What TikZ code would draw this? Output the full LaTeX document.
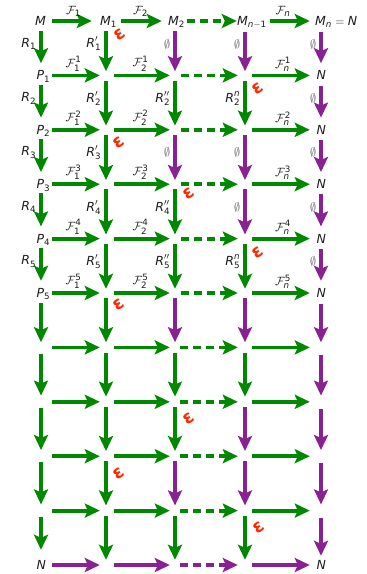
\documentclass[tikz,border=0pt]{standalone}
\usepackage{fontspec}
\setmainfont{DejaVu Sans}
\usepackage{amsmath}
\usetikzlibrary{arrows.meta}
\definecolor{gr}{RGB}{0,136,0}
\definecolor{pu}{RGB}{136,34,146}
\definecolor{ep}{RGB}{255,40,0}
\definecolor{lb}{RGB}{30,30,30}
\definecolor{es}{RGB}{90,90,90}
\newcommand\vv[1]{\textit{#1}}
\newcommand\tx[1]{\text{#1}}
\newcommand\Emp{{\color{es}$\emptyset$}}
\begin{document}
\begin{tikzpicture}[x=1pt,y=-1pt,
 lblfont/.style={font=\fontsize{12.5}{15}\selectfont, text=lb},
 gp/.style={inner sep=0pt, minimum size=0pt},
 tn/.style={lblfont, anchor=west, inner sep=0pt, text height=10.5pt, text depth=1.5pt},
 arr/.style={line width=3.8pt, -{Stealth[length=15pt,width=14pt,inset=3pt]}},
 sl/.style={shorten <=#1pt}, el/.style={shorten >=#1pt},
 dsh/.style={dash pattern=on 8pt off 5pt},
 hl/.style={lblfont, midway, anchor=south, yshift=2.5pt, inner sep=0pt},
 vl/.style={lblfont, pos=0.42, anchor=east, xshift=-3pt, inner sep=0pt},
 eps/.style={text=ep, font=\fontsize{18}{18}\selectfont\bfseries, rotate=35, inner sep=0pt}
]
\useasboundingbox (0,0) rectangle (367,574);
% grid points
\foreach \i in {0,...,10} {
  \foreach \j/\x in {0/41,1/106,2/175,3/245,4/321} {
    \node[gp] (g\i-\j) at (\x,{21+54.4*\i}) {};
  }
}
% texts
\node[tn] (tM) at (35,21) {$\vv{M}$};
\node[tn] (tM1) at (100,21) {$\vv{M}_{\tx{1}}$};
\node[tn] (tM2) at (168,21) {$\vv{M}_{\tx{2}}$};
\node[tn] (tMn1) at (237,21) {$\vv{M}_{\vv{n}-\tx{1}}$};
\node[tn] (tMn) at (315,21) {$\vv{M}_{\vv{n}}=\vv{N}$};
\foreach \i in {1,...,5} {
  \node[tn] (tP\i) at (36.5,{21+54.4*\i}) {$\vv{P}_{\tx{\i}}$};
  \node[tn] (tN\i) at (316.5,{21+54.4*\i}) {$\vv{N}$};
}
\node[tn] (tNa) at (36.5,565) {$\vv{N}$};
\node[tn] (tNb) at (316.5,565) {$\vv{N}$};
% horizontal arrows
\draw[arr,color=gr,sl=11,el=14] (g0-0) -- node[hl]{$\mathcal{F}_{\tx{1}}$} (g0-1);
\draw[arr,color=gr,sl=15,el=13] (g0-1) -- node[hl]{$\mathcal{F}_{\tx{2}}$} (g0-2);
\draw[arr,color=gr,dsh,sl=12,el=8] (g0-2) -- (g0-3);
\draw[arr,color=gr,sl=25,el=11] (g0-3) -- node[hl]{$\mathcal{F}_{\vv{n}}$} (g0-4);
\foreach \i in {1,...,5} {
  \draw[arr,color=gr,sl=11,el=6] (g\i-0) -- node[hl]{$\mathcal{F}^{\tx{\i}}_{\tx{1}}$} (g\i-1);
  \draw[arr,color=gr,sl=8,el=5] (g\i-1) -- node[hl]{$\mathcal{F}^{\tx{\i}}_{\tx{2}}$} (g\i-2);
  \draw[arr,color=gr,dsh,sl=6,el=7] (g\i-2) -- (g\i-3);
  \draw[arr,color=gr,sl=7,el=11] (g\i-3) -- node[hl]{$\mathcal{F}^{\tx{\i}}_{\vv{n}}$} (g\i-4);
}
\foreach \i/\c in {6/gr,7/gr,8/gr,9/gr,10/pu} {
  \draw[arr,color=\c,sl=11,el=6] (g\i-0) -- (g\i-1);
  \draw[arr,color=\c,sl=8,el=5] (g\i-1) -- (g\i-2);
  \draw[arr,color=\c,dsh,sl=5,el=7] (g\i-2) -- (g\i-3);
  \draw[arr,color=\c,sl=7,el=11] (g\i-3) -- (g\i-4);
}
% column 0
\draw[arr,color=gr,sl=10,el=12] (g0-0) -- node[vl]{$\vv{R}_{\tx{1}}$} (g1-0);
\foreach \i/\k in {1/2,2/3,3/4,4/5}
  \draw[arr,color=gr,sl=9,el=12] (g\i-0) -- node[vl]{$\vv{R}_{\tx{\k}}$} (g\k-0);
\draw[arr,color=gr,sl=10,el=5] (g5-0) -- (g6-0);
\foreach \i/\k in {6/7,7/8,8/9}
  \draw[arr,color=gr,sl=6,el=6] (g\i-0) -- (g\k-0);
\draw[arr,color=gr,sl=6,el=15] (g9-0) -- (g10-0);
% column 1
\draw[arr,color=gr,sl=10,el=4] (g0-1) -- node[vl]{$\vv{R}'_{\tx{1}}$} (g1-1);
\foreach \i/\k in {1/2,2/3,3/4,4/5}
  \draw[arr,color=gr,sl=5,el=4] (g\i-1) -- node[vl]{$\vv{R}'_{\tx{\k}}$} (g\k-1);
\foreach \i/\k in {5/6,6/7,7/8,8/9,9/10}
  \draw[arr,color=gr,sl=5,el=5] (g\i-1) -- (g\k-1);
% column 2
\draw[arr,color=pu,sl=10,el=4] (g0-2) -- node[vl]{\Emp} (g1-2);
\draw[arr,color=gr,sl=5,el=4] (g1-2) -- node[vl]{$\vv{R}''_{\tx{2}}$} (g2-2);
\draw[arr,color=pu,sl=5,el=4] (g2-2) -- node[vl]{\Emp} (g3-2);
\draw[arr,color=gr,sl=5,el=4] (g3-2) -- node[vl]{$\vv{R}''_{\tx{4}}$} (g4-2);
\draw[arr,color=gr,sl=5,el=4] (g4-2) -- node[vl]{$\vv{R}''_{\tx{5}}$} (g5-2);
\foreach \i/\k/\c in {5/6/pu,6/7/gr,7/8/gr,8/9/pu,9/10/gr}
  \draw[arr,color=\c,sl=5,el=5] (g\i-2) -- (g\k-2);
% column 3
\draw[arr,color=pu,sl=11,el=4] (g0-3) -- node[vl]{\Emp} (g1-3);
\draw[arr,color=gr,sl=5,el=4] (g1-3) -- node[vl]{$\vv{R}^{\vv{n}}_{\tx{2}}$} (g2-3);
\draw[arr,color=pu,sl=5,el=4] (g2-3) -- node[vl]{\Emp} (g3-3);
\draw[arr,color=pu,sl=5,el=4] (g3-3) -- node[vl]{\Emp} (g4-3);
\draw[arr,color=gr,sl=5,el=4] (g4-3) -- node[vl]{$\vv{R}^{\vv{n}}_{\tx{5}}$} (g5-3);
\foreach \i/\k/\c in {5/6/pu,6/7/gr,7/8/pu,8/9/pu,9/10/gr}
  \draw[arr,color=\c,sl=5,el=5] (g\i-3) -- (g\k-3);
% column 4
\draw[arr,color=pu,sl=11,el=12] (g0-4) -- node[vl]{\Emp} (g1-4);
\foreach \i/\k in {1/2,2/3,3/4,4/5}
  \draw[arr,color=pu,sl=10,el=12] (g\i-4) -- node[vl]{\Emp} (g\k-4);
\draw[arr,color=pu,sl=11,el=5] (g5-4) -- (g6-4);
\foreach \i/\k in {6/7,7/8,8/9}
  \draw[arr,color=pu,sl=7,el=6] (g\i-4) -- (g\k-4);
\draw[arr,color=pu,sl=7,el=9] (g9-4) -- (g10-4);
% epsilon marks
\foreach \n/\x/\y in {1/120/35,2/258/89,3/119/143,4/189/194,5/258/253,6/119/305,7/189/419,8/119/474,9/259/528}
  \node[eps] (e\n) at (\x,\y) {ɛ};
\end{tikzpicture}
\end{document}
